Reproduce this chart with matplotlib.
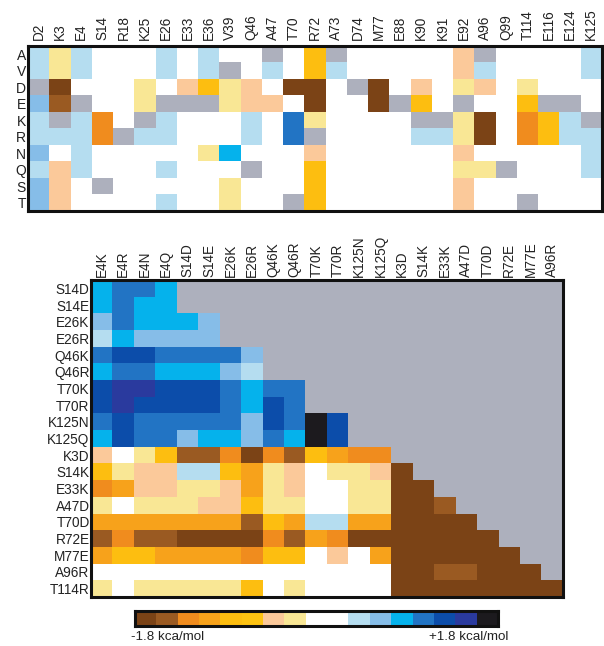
import numpy as np
import matplotlib
matplotlib.use("Agg")
import matplotlib.pyplot as plt
from matplotlib.colors import ListedColormap, BoundaryNorm

plt.rcParams['font.family'] = ['Liberation Sans', 'DejaVu Sans']

# ---------------------------------------------------------------------------
# Colour scale: 17 bins spanning -1.8 .. +1.8 kcal/mol
# ---------------------------------------------------------------------------
bin_colors = [
    "#7b4316", "#9a5a22", "#f08c1e", "#f7a21b", "#fdbe10", "#fdc312",
    "#fbc99a", "#f9e795", "#ffffff", "#ffffff", "#b5ddf0", "#86bde8",
    "#05b2ec", "#2274c4", "#0c4daa", "#2a3a9e", "#1c1a1e",
]
missing_color = "#adb0bd"
edges = np.linspace(-1.8, 1.8, len(bin_colors) + 1)
centers = 0.5 * (edges[:-1] + edges[1:])

# Letter codes for the binned ddG values ('.' = not measured)
code_bin = {"a": 0, "b": 1, "c": 2, "d": 3, "e": 4, "f": 5, "g": 6, "h": 7,
            "w": 8, "i": 10, "j": 11, "k": 12, "l": 13, "m": 14, "n": 15, "o": 16}
ddg_of_code = {c: round(float(centers[k]), 2) for c, k in code_bin.items()}

# ---------------------------------------------------------------------------
# Single-site substitutions
# ---------------------------------------------------------------------------
sites = ["D2", "K3", "E4", "S14", "R18", "K25", "E26", "E33", "E36", "V39",
         "Q46", "A47", "T70", "R72", "A73", "D74", "M77", "E88", "K90", "K91",
         "E92", "A96", "Q99", "T114", "E116", "E124", "K125"]
residues = ["A", "V", "D", "E", "K", "R", "N", "Q", "S", "T"]
single_codes = [
    "ihiwwwiwiww.we.wwwwwg.wwwwi",
    "ihiwwwiwi.wiweiwwwwwgiwwwwi",
    ".awwwhwgehgwaaw.awgwhgwhwww",
    "jb.wwh...hggwawwa.ew.wwe..w",
    "i.icw.iwwwiwlhwwww..hawcei.",
    "iiic.iiwwwiwl.wwwwiihawceii",
    "jwiwwwwwhkwwwgwwwwwwgwwwwwi",
    "igiwwwiwww.wwewwwwwwhh.wwwi",
    "jgw.wwwwwhwwwewwwwwwgwwwwww",
    "jgwwwwiwwhww.ewwwwwwgww.www",
]

# ---------------------------------------------------------------------------
# Pairwise (double-mutant) coupling
# ---------------------------------------------------------------------------
pair_cols = ["E4K", "E4R", "E4N", "E4Q", "S14D", "S14E", "E26K", "E26R",
             "Q46K", "Q46R", "T70K", "T70R", "K125N", "K125Q", "K3D", "S14K",
             "E33K", "A47D", "T70D", "R72E", "M77E", "A96R"]
pair_rows = ["S14D", "S14E", "E26K", "E26R", "Q46K", "Q46R", "T70K", "T70R",
             "K125N", "K125Q", "K3D", "S14K", "E33K", "A47D", "T70D", "R72E",
             "M77E", "A96R", "T114R"]
pair_codes = [
    "kllk",
    "klkk",
    "jlkkkj",
    "ikjjjj",
    "lmmllllj",
    "kllkkkji",
    "mnnmmmlkll",
    "mnmmmmlkml",
    "lmllllljmlom",
    "kmlljkkjlkom",
    "gwhebbcacbedcc",
    "ehggiiedhgwhhga",
    "cdgghhgdhgwwhhaa",
    "hwhhhggehhwwhhaab",
    "dddddddbediiddaaaa",
    "bcbbaaaacbdcaaaaaaa",
    "deeddddceewgwdaaaaaa",
    "wwwwwwwwwwwwwwaabbaaa",
    "hwhhhhhewhwwwwaaaaaaaa",
]


def decode(rows, ncols):
    out = np.full((len(rows), ncols), np.nan)
    for r, s in enumerate(rows):
        for c, ch in enumerate(s[:ncols]):
            if ch != ".":
                out[r, c] = ddg_of_code[ch]
    return out


single_ddg = decode(single_codes, len(sites))
pair_ddg = decode(pair_codes, len(pair_cols))

cmap = ListedColormap(bin_colors)
cmap.set_bad(missing_color)
norm = BoundaryNorm(edges, cmap.N)

W, H = 604, 646
fig = plt.figure(figsize=(W / 100, H / 100), dpi=100)


def rect(l, t, r, b):
    return [l / W, 1 - b / H, (r - l) / W, (b - t) / H]


def heat(ax, data, xlabels, ylabels, fs=9.8):
    ax.imshow(np.ma.masked_invalid(data), cmap=cmap, norm=norm,
              aspect="auto", interpolation="nearest")
    ax.set_xticks(range(len(xlabels)))
    ax.set_xticklabels(xlabels, rotation=90, fontsize=fs, color="#222222")
    ax.set_yticks(range(len(ylabels)))
    ax.set_yticklabels(ylabels, fontsize=fs, color="#222222")
    ax.xaxis.tick_top()
    ax.tick_params(length=0, pad=2)
    for sp in ax.spines.values():
        sp.set_linewidth(2.2)
        sp.set_color("#111111")


ax1 = fig.add_axes(rect(28, 46, 602, 211))
heat(ax1, single_ddg, sites, residues)
ax1.tick_params(axis="x", pad=4)
ax1.tick_params(axis="y", labelsize=10, pad=1.5)

ax2 = fig.add_axes(rect(91, 280, 563, 597))
heat(ax2, pair_ddg, pair_cols, pair_rows)
ax2.tick_params(axis="y", pad=1)

# Colour key
axc = fig.add_axes(rect(135, 611, 498, 626))
axc.imshow(centers[np.newaxis, :], cmap=cmap, norm=norm, aspect="auto",
           interpolation="nearest")
axc.set_xticks([])
axc.set_yticks([])
for sp in axc.spines.values():
    sp.set_linewidth(2.2)
    sp.set_color("#111111")
fig.text(131 / W, 1 - 637 / H, "-1.8 kca/mol", fontsize=9.6, ha="left",
         va="center", color="#222222")
fig.text(508 / W, 1 - 637 / H, "+1.8 kcal/mol", fontsize=9.6, ha="right",
         va="center", color="#222222")

fig.savefig("out.png", dpi=100)
